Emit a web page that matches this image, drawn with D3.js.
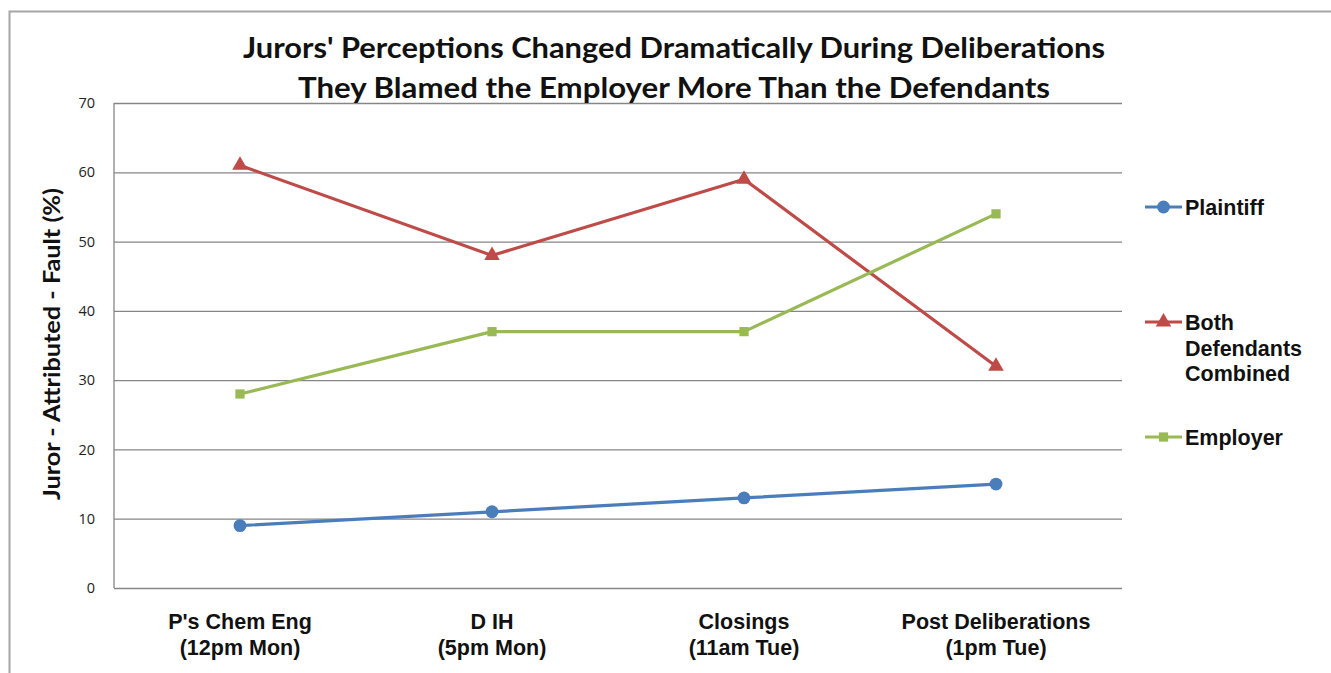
<!DOCTYPE html>
<html>
<head>
<meta charset="utf-8">
<script src="https://cdn.jsdelivr.net/npm/d3@7"></script>
<style>
  body { margin: 0; background: #fff; }
  svg { display: block; }
</style>
</head>
<body>
<div id="chart"></div>
<script>
var categories = [
  ["P's Chem Eng", "(12pm Mon)"],
  ["D IH", "(5pm Mon)"],
  ["Closings", "(11am Tue)"],
  ["Post Deliberations", "(1pm Tue)"]
];
var plaintiff = [9, 11, 13, 15];
var defendants = [61, 48, 59, 32];
var employer = [28, 37, 37, 54];
var yTicks = [0, 10, 20, 30, 40, 50, 60, 70];
var titleLines = [
  "Jurors' Perceptions Changed Dramatically During Deliberations",
  "They Blamed the Employer More Than the Defendants"
];

var series = [
  {name: ["Plaintiff"], values: plaintiff, color: "#4a7ebb", symbol: d3.symbolCircle, size: 130, legendY: 207},
  {name: ["Both", "Defendants", "Combined"], values: defendants, color: "#be4b48", symbol: d3.symbolTriangle, size: 105, legendY: 322},
  {name: ["Employer"], values: employer, color: "#98b954", symbol: d3.symbolSquare, size: 85, legendY: 437}
];

var W = 1331, H = 673;
var svg = d3.select("#chart").append("svg")
  .attr("width", W)
  .attr("height", H);

// outer chart frame (only top and left edges are visible)
svg.append("path")
  .attr("d", "M9.5," + H + "V11.5H" + W)
  .attr("fill", "none")
  .attr("stroke", "#a6a6a6")
  .attr("stroke-width", 2);

var margin = {top: 103, left: 114, right: 1122, bottom: 588};

var x = d3.scaleBand()
  .domain(d3.range(categories.length))
  .range([margin.left, margin.right]);

var y = d3.scaleLinear()
  .domain([0, 70])
  .range([margin.bottom, margin.top]);

// gridlines
var yAxis = d3.axisLeft(y)
  .tickValues(yTicks)
  .tickSize(-(margin.right - margin.left))
  .tickPadding(19);

var gy = svg.append("g")
  .attr("transform", "translate(" + margin.left + ",0)")
  .call(yAxis);
gy.select(".domain").remove();
gy.selectAll(".tick line").attr("stroke", "#868686").attr("stroke-width", 1.3);
gy.selectAll(".tick text")
  .attr("font-family", "'Open Sans', sans-serif")
  .attr("font-size", 14.5)
  .attr("fill", "#222");

// left axis line
svg.append("line")
  .attr("x1", margin.left).attr("x2", margin.left)
  .attr("y1", margin.top).attr("y2", margin.bottom)
  .attr("stroke", "#868686").attr("stroke-width", 1.3);

// x labels
var xl = svg.append("g");
categories.forEach(function(c, i) {
  var t = xl.append("text")
    .attr("x", x(i) + x.bandwidth() / 2)
    .attr("y", 629)
    .attr("text-anchor", "middle")
    .attr("font-family", "'Liberation Sans', Arial, sans-serif")
    .attr("font-weight", "bold")
    .attr("font-size", 21.5)
    .attr("fill", "#111");
  c.forEach(function(line, k) {
    t.append("tspan").attr("x", x(i) + x.bandwidth() / 2).attr("dy", k ? 26 : 0).text(line);
  });
});

// lines + markers
var line = d3.line()
  .x(function(d, i) { return x(i) + x.bandwidth() / 2; })
  .y(function(d) { return y(d); });

series.forEach(function(s) {
  svg.append("path")
    .datum(s.values)
    .attr("fill", "none")
    .attr("stroke", s.color)
    .attr("stroke-width", 3.2)
    .attr("stroke-linejoin", "round")
    .attr("d", line);

  svg.selectAll(null)
    .data(s.values)
    .enter().append("path")
    .attr("transform", function(d, i) {
      return "translate(" + (x(i) + x.bandwidth() / 2) + "," + y(d) + ")";
    })
    .attr("d", d3.symbol().type(s.symbol).size(s.size))
    .attr("fill", s.color);
});

// legend
series.forEach(function(s) {
  var g = svg.append("g").attr("transform", "translate(1145," + s.legendY + ")");
  g.append("line")
    .attr("x1", 0).attr("x2", 37)
    .attr("stroke", s.color).attr("stroke-width", 3.2);
  g.append("path")
    .attr("transform", "translate(18.5,0)")
    .attr("d", d3.symbol().type(s.symbol).size(s.size))
    .attr("fill", s.color);
  var t = g.append("text")
    .attr("x", 40)
    .attr("y", 8)
    .attr("font-family", "'Liberation Sans', Arial, sans-serif")
    .attr("font-weight", "bold")
    .attr("font-size", 21.5)
    .attr("fill", "#111");
  s.name.forEach(function(n, k) {
    t.append("tspan").attr("x", 40).attr("dy", k ? 25.5 : 0).text(n);
  });
});

// title
var titleLen = [862, 752];
titleLines.forEach(function(s, k) {
  svg.append("text")
    .attr("x", 674)
    .attr("y", 58 + k * 40)
    .attr("text-anchor", "middle")
    .attr("font-family", "Lato, 'Open Sans', sans-serif")
    .attr("font-weight", "bold")
    .attr("font-size", 29)
    .attr("textLength", titleLen[k])
    .attr("lengthAdjust", "spacingAndGlyphs")
    .attr("fill", "#111")
    .text(s);
});

// y axis title
svg.append("text")
  .attr("transform", "translate(60,344) rotate(-90)")
  .attr("text-anchor", "middle")
  .attr("font-family", "Lato, 'Open Sans', sans-serif")
  .attr("font-weight", "bold")
  .attr("font-size", 22)
  .attr("textLength", 312)
  .attr("lengthAdjust", "spacingAndGlyphs")
  .attr("fill", "#111")
  .text("Juror - Attributed - Fault (%)");
</script>
</body>
</html>
